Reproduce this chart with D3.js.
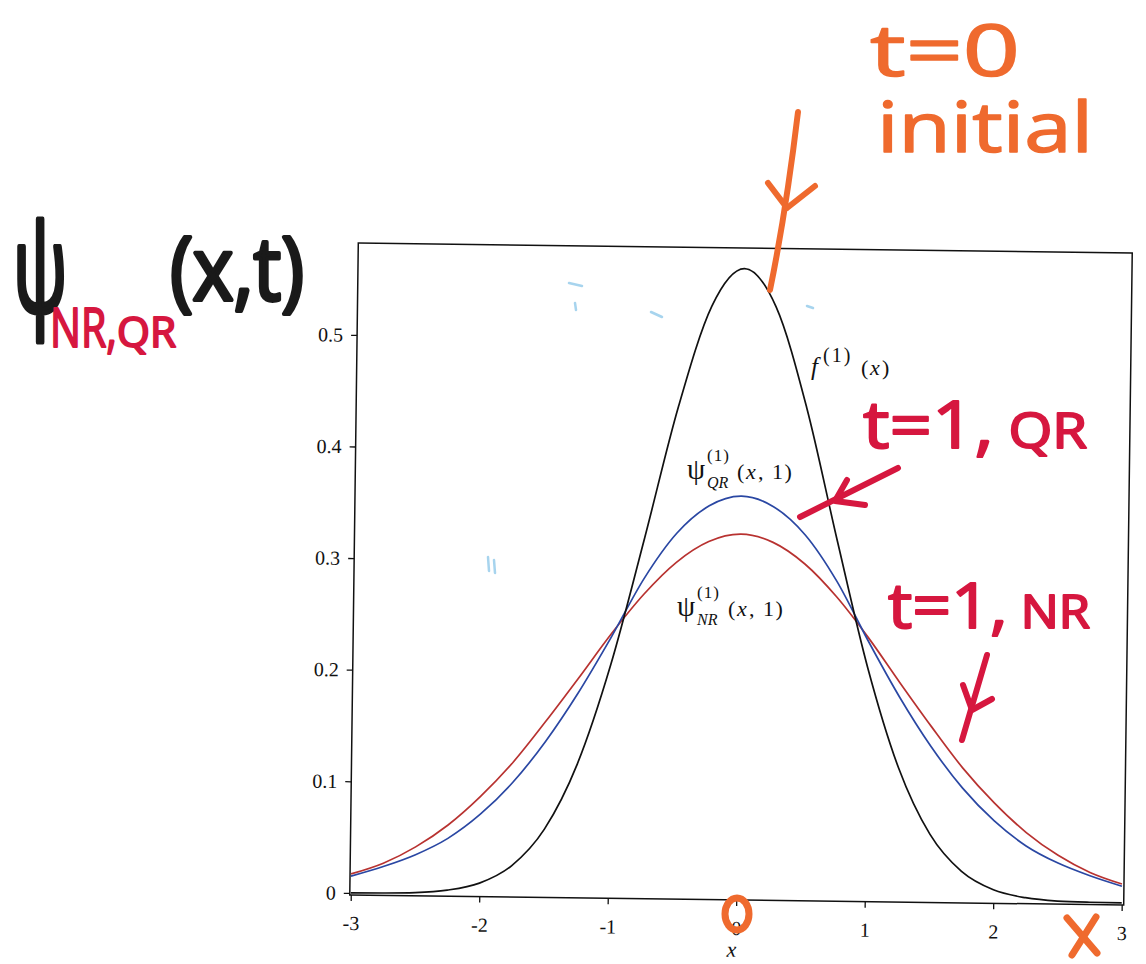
<!DOCTYPE html>
<html>
<head>
<meta charset="utf-8">
<script src="https://cdn.jsdelivr.net/npm/d3@7"></script>
<style>
  body { margin: 0; background: #fff; }
  .axis text { font-family: "Liberation Serif", serif; font-size: 20px; fill: #111; }
  .axis line { stroke: #111; stroke-width: 1.3; }
  .maple { font-family: "Liberation Serif", serif; fill: #111; }
  .hand { font-family: "Open Sans", sans-serif; font-weight: 400; stroke-width: 1.5; stroke-linejoin: round; }
  .ink { fill: none; stroke-linecap: round; stroke-linejoin: round; }
</style>
</head>
<body>
<script>
// sample points along x
let xValues = [-3, -2.75, -2.5, -2.25, -2, -1.75, -1.5, -1.25, -1, -0.75, -0.5, -0.25, 0,
  0.25, 0.5, 0.75, 1, 1.25, 1.5, 1.75, 2, 2.25, 2.5, 2.75, 3];

// f(1)(x), initial state t=0 (black)
let fValues = [0.0001, 0.0003, 0.001, 0.0036, 0.0103, 0.0264, 0.0594, 0.1183, 0.2076, 0.3212, 0.4394, 0.5300, 0.5640,
  0.5300, 0.4394, 0.3212, 0.2076, 0.1183, 0.0594, 0.0264, 0.0103, 0.0036, 0.001, 0.0003, 0.0001];

// psi_QR(x,1) (blue)
let qrValues = [0.015, 0.024, 0.035, 0.050, 0.072, 0.101, 0.138, 0.182, 0.232, 0.285, 0.326, 0.351, 0.360,
  0.351, 0.326, 0.285, 0.232, 0.182, 0.138, 0.101, 0.072, 0.050, 0.035, 0.024, 0.015];

// psi_NR(x,1) (red)
let nrValues = [0.017, 0.027, 0.042, 0.062, 0.088, 0.119, 0.156, 0.195, 0.235, 0.271, 0.300, 0.319, 0.326,
  0.319, 0.300, 0.271, 0.235, 0.195, 0.156, 0.119, 0.088, 0.062, 0.042, 0.027, 0.017];

let xTicks = [-3, -2, -1, 0, 1, 2, 3];
let xTickLabels = ["-3", "-2", "-1", "0", "1", "2", "3"];
let yTicks = [0, 0.1, 0.2, 0.3, 0.4, 0.5];
let yTickLabels = ["0", "0.1", "0.2", "0.3", "0.4", "0.5"];

let svgWidth = 1146;
let svgHeight = 964;

// plot box (before the slight scan tilt)
let box = { left: 354, top: 248, right: 1128, bottom: 900 };

let svg = d3.select("body")
  .append("svg")
  .attr("width", svgWidth)
  .attr("height", svgHeight);

svg.append("rect").attr("width", svgWidth).attr("height", svgHeight).attr("fill", "#fff");

let chartGroup = svg.append("g")
  .attr("transform", "rotate(0.75, 742, 574)");

let xScale = d3.scaleLinear()
  .domain([-3, 3])
  .range([box.left + 1, box.right - 2]);

let yScale = d3.scaleLinear()
  .domain([-0.0018, 0.5824])
  .range([box.bottom, box.top]);

chartGroup.append("rect")
  .attr("x", box.left)
  .attr("y", box.top)
  .attr("width", box.right - box.left)
  .attr("height", box.bottom - box.top)
  .attr("fill", "none")
  .attr("stroke", "#111")
  .attr("stroke-width", 1.5);

let leftAxis = d3.axisLeft(yScale)
  .tickValues(yTicks)
  .tickFormat((d, i) => yTickLabels[i])
  .tickSize(6)
  .tickPadding(8);

let bottomAxis = d3.axisBottom(xScale)
  .tickValues(xTicks)
  .tickFormat((d, i) => xTickLabels[i])
  .tickSize(6)
  .tickPadding(15);

chartGroup.append("g")
  .classed("axis", true)
  .attr("transform", `translate(${box.left}, 0)`)
  .call(leftAxis)
  .call(g => g.select(".domain").remove());

chartGroup.append("g")
  .classed("axis", true)
  .attr("transform", `translate(0, ${box.bottom})`)
  .call(bottomAxis)
  .call(g => g.select(".domain").remove());

chartGroup.append("text")
  .attr("class", "maple")
  .attr("x", xScale(0) - 4)
  .attr("y", 957)
  .attr("font-size", 22)
  .attr("font-style", "italic")
  .attr("text-anchor", "middle")
  .text("x");

let series = [
  { values: nrValues, color: "#b83230" },
  { values: qrValues, color: "#2a47a3" },
  { values: fValues, color: "#111111" }
];

let drawLine = d3.line()
  .x((d, i) => xScale(xValues[i]))
  .y(d => yScale(d))
  .curve(d3.curveMonotoneX);

series.forEach(function(s) {
  chartGroup.append("path")
    .attr("d", drawLine(s.values))
    .attr("fill", "none")
    .attr("stroke", s.color)
    .attr("stroke-width", 1.7);
});

// curve labels
let labels = svg.append("g").attr("class", "maple");

function curveLabel(x, y, name, sub, sup, gap) {
  if (name === "f") {
    labels.append("text").attr("x", x).attr("y", y).attr("font-size", 25)
      .attr("font-style", "italic").text("f");
  } else {
    labels.append("text").attr("x", x).attr("y", y).attr("font-size", 29).text("ψ");
  }
  labels.append("text").attr("x", x + sup.dx).attr("y", y - sup.dy).attr("font-size", sup.size)
    .attr("letter-spacing", sup.spacing).text("(1)");
  if (sub) {
    labels.append("text").attr("x", x + sup.dx).attr("y", y + 9).attr("font-size", 16)
      .attr("font-style", "italic").text(sub);
  }
  // argument list: "(", italic "x", then the rest
  labels.append("text").attr("x", x + gap).attr("y", y).attr("font-size", 22).text("(");
  labels.append("text").attr("x", x + gap + 9).attr("y", y).attr("font-size", 22)
    .attr("font-style", "italic").text("x");
  labels.append("text").attr("x", x + gap + 21).attr("y", y).attr("font-size", 22)
    .attr("letter-spacing", 1.5).text(name === "f" ? ")" : ", 1)");
}

curveLabel(811, 375, "f", null, { dx: 12, dy: 13, size: 20, spacing: 2 }, 50);
curveLabel(687, 479, "psi", "QR", { dx: 20, dy: 18, size: 17, spacing: 1 }, 50);
curveLabel(677, 616, "psi", "NR", { dx: 20, dy: 18, size: 17, spacing: 1 }, 51);

// handwritten notes
let notes = svg.append("g");
let orange = "#ef6a2e";
let crimson = "#d6173f";

notes.append("text").attr("class", "hand")
  .attr("x", 870).attr("y", 76).attr("font-size", 72)
  .attr("textLength", 150).attr("lengthAdjust", "spacingAndGlyphs")
  .attr("fill", orange).attr("stroke", orange)
  .text("t=0");

notes.append("text").attr("class", "hand")
  .attr("x", 877).attr("y", 152).attr("font-size", 70)
  .attr("textLength", 216).attr("lengthAdjust", "spacingAndGlyphs")
  .attr("fill", orange).attr("stroke", orange)
  .text("initial");

let qrNote = notes.append("text").attr("class", "hand")
  .attr("x", 863).attr("y", 448)
  .attr("textLength", 224).attr("lengthAdjust", "spacingAndGlyphs")
  .attr("fill", crimson).attr("stroke", crimson)
  .style("stroke-width", "2px");
qrNote.append("tspan").attr("font-size", 66).text("t=1,");
qrNote.append("tspan").attr("font-size", 50).text(" QR");

let nrNote = notes.append("text").attr("class", "hand")
  .attr("x", 888).attr("y", 628)
  .attr("textLength", 202).attr("lengthAdjust", "spacingAndGlyphs")
  .attr("fill", crimson).attr("stroke", crimson)
  .style("stroke-width", "2px");
nrNote.append("tspan").attr("font-size", 62).text("t=1,");
nrNote.append("tspan").attr("font-size", 46).text(" NR");

// big psi_{NR,QR}(x,t) title
notes.append("text").attr("class", "hand")
  .attr("x", 13).attr("y", 312)
  .attr("font-family", "DejaVu Sans")
  .attr("font-size", 122)
  .attr("textLength", 54).attr("lengthAdjust", "spacingAndGlyphs")
  .attr("fill", "#1a1a1a").attr("stroke", "#1a1a1a")
  .style("stroke-width", "5px")
  .text("ψ");

notes.append("text").attr("class", "hand")
  .attr("x", 50).attr("y", 347).attr("font-size", 54)
  .attr("textLength", 67).attr("lengthAdjust", "spacingAndGlyphs")
  .attr("fill", crimson).attr("stroke", crimson)
  .style("stroke-width", "2px")
  .text("NR,");

notes.append("text").attr("class", "hand")
  .attr("x", 117).attr("y", 347).attr("font-size", 42)
  .attr("textLength", 59).attr("lengthAdjust", "spacingAndGlyphs")
  .attr("fill", crimson).attr("stroke", crimson)
  .style("stroke-width", "2px")
  .text("QR");

notes.append("text").attr("class", "hand")
  .attr("x", 170).attr("y", 300).attr("font-size", 88)
  .attr("textLength", 134).attr("lengthAdjust", "spacingAndGlyphs")
  .attr("fill", "#1a1a1a").attr("stroke", "#1a1a1a")
  .style("stroke-width", "4px")
  .text("(x,t)");

// arrows and marks
let inkPaths = [
  { d: "M798,112 Q786,212 770,290", color: orange, w: 6 },
  { d: "M768,183 L787,208 L815,186", color: orange, w: 6 },
  { d: "M898,468 L800,517", color: crimson, w: 6 },
  { d: "M847,480 L835,501 L865,505", color: crimson, w: 6 },
  { d: "M987,655 L962,740", color: crimson, w: 6 },
  { d: "M963,685 L972,710 L992,699", color: crimson, w: 6 },
  { d: "M1067,918 L1097,953", color: orange, w: 7 },
  { d: "M1096,917 L1072,955", color: orange, w: 7 }
];

inkPaths.forEach(function(p) {
  notes.append("path")
    .attr("class", "ink")
    .attr("d", p.d)
    .attr("stroke", p.color)
    .attr("stroke-width", p.w);
});

notes.append("ellipse")
  .attr("cx", 737).attr("cy", 914)
  .attr("rx", 12).attr("ry", 16)
  .attr("fill", "none")
  .attr("stroke", orange)
  .attr("stroke-width", 7);

// faint blue specks from the scan
let specks = ["M569,283 L582,286", "M575,303 L576,310", "M651,312 L662,317",
  "M807,306 L813,308", "M488,557 L489,571", "M494,560 L495,573"];
specks.forEach(function(d) {
  notes.append("path").attr("class", "ink").attr("d", d)
    .attr("stroke", "#4fa9dd").attr("stroke-width", 2.5).attr("opacity", 0.5);
});
</script>
</body>
</html>
